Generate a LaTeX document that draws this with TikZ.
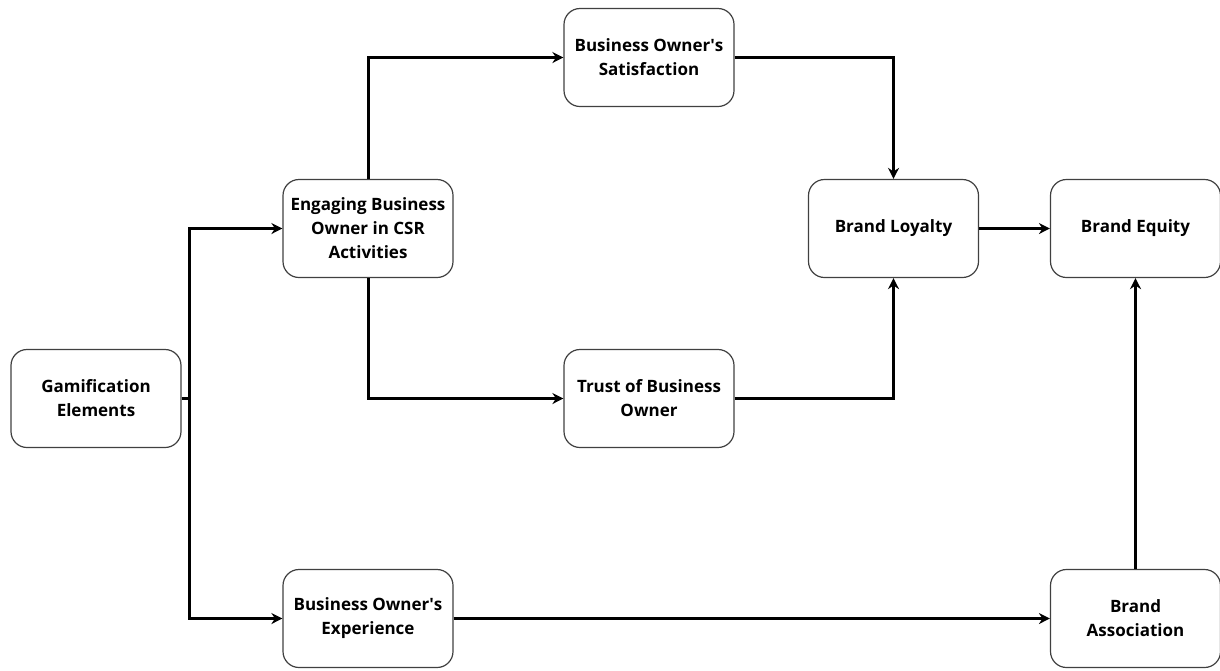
\documentclass[tikz,border=0pt]{standalone}
\usepackage{fontspec}
\setmainfont{Open Sans}
\usepackage{tikz}
\usetikzlibrary{arrows.meta}
\tikzstyle{arrow} = [-{Stealth[length=5.5pt,width=5.5pt]}, line width=1.5pt]
\tikzstyle{link} = [line width=1.5pt]
\tikzstyle{box} = [draw=black!75, line width=0.6pt, rounded corners=8pt, minimum width=85pt, minimum height=49pt, align=center, font=\fontsize{8.5}{12}\selectfont\bfseries, inner sep=2pt]
\newcommand{\apos}{\textquotesingle}

\begin{document}
\begin{tikzpicture}[x=0.5pt, y=-0.5pt]
    \useasboundingbox (0,0) rectangle (1220,670);
    % Boxes
    \node[box] (gam) at (96,398.5) {Gamification\\Elements};
    \node[box] (eng) at (368,228.5) {Engaging Business\\Owner in CSR\\Activities};
    \node[box] (sat) at (649,57.5) {Business Owner\apos s\\Satisfaction};
    \node[box] (trust) at (649,398.5) {Trust of Business\\Owner};
    \node[box] (loyal) at (893.5,228.5) {Brand Loyalty};
    \node[box] (equity) at (1135.5,228.5) {Brand Equity};
    \node[box] (exp) at (368,618.5) {Business Owner\apos s\\Experience};
    \node[box] (assoc) at (1135.5,618.5) {Brand\\Association};
    % Connectors
    \draw[link] (gam.east) -- ++(8,0) coordinate (split);
    \draw[arrow] (split) |- (eng.west);
    \draw[arrow] (split) |- (exp.west);
    \draw[arrow] (eng.north) |- (sat.west);
    \draw[arrow] (eng.south) |- (trust.west);
    \draw[arrow] (sat.east) -| (loyal.north);
    \draw[arrow] (trust.east) -| (loyal.south);
    \draw[arrow] (loyal.east) -- (equity.west);
    \draw[arrow] (exp.east) -- (assoc.west);
    \draw[arrow] (assoc.north) -- (equity.south);
\end{tikzpicture}
\end{document}
